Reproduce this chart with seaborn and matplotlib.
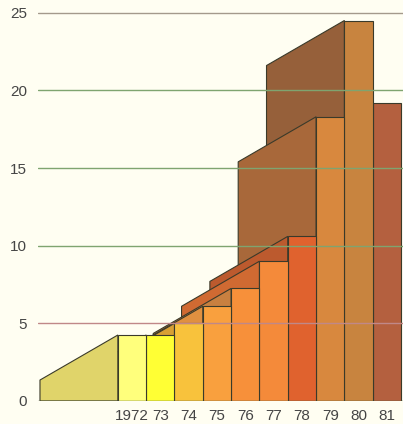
import numpy as np
import pandas as pd
import matplotlib
matplotlib.use('Agg')
import matplotlib.pyplot as plt
import seaborn as sns

sns.set_style('white')
plt.rcParams['font.family'] = ['Liberation Sans', 'DejaVu Sans']

# 데이터
years = ['1972', '73', '74', '75', '76', '77', '78', '79', '80', '81']
values = [4.25, 4.25, 5.0, 6.1, 7.25, 9.0, 10.6, 18.3, 24.5, 19.2]
y_ticks = [0, 5, 10, 15, 20, 25]

# 색상 (앞면 / 옆면)
front_colors = ['#FFFF7C', '#FFFF34', '#F8C23C', '#F9A03E', '#F7903A', '#F48A3A',
                '#E0622E', '#D8883E', '#C8843F', '#B4603F']
side_colors = ['#E0D46A', '#D8C040', '#D8A034', '#E09040', '#C88040', '#D06A32',
               '#BC5A2E', '#A8683A', '#96603A', '#904838']
grid_colors = ['#5C6A4C', '#C08888', '#7FA470', '#7FA470', '#7FA470', '#A49A8C']

df = pd.DataFrame({'year': years, 'value': values})

bg = '#FFFEF2'
fig = plt.figure(figsize=(4.03, 4.24), dpi=100, facecolor=bg)
ax = fig.add_axes([38 / 403, 23 / 424, 365 / 403, 401 / 424])
ax.set_facecolor(bg)

sns.barplot(data=df, x='year', y='value', hue='year', palette=front_colors,
            saturation=1, width=1.0, edgecolor='#3A3A2A', linewidth=0.8,
            legend=False, ax=ax)

# 입체 효과 (왼쪽 아래로 밀린 옆면)
dx, dy = -2.75, -2.9
n = len(years)
for i, bar in enumerate(ax.patches):
    bar.set_zorder(2 * (n - i) + 1)
    left = bar.get_x()
    top = bar.get_height()
    xs = [left, left + dx, left + dx, left]
    ys = [top, top + dy, 0, 0]
    ax.fill(xs, ys, facecolor=side_colors[i], edgecolor='#3A3A2A',
            linewidth=0.8, zorder=2 * (n - i))

# 가로 눈금선 (막대 위에 그림)
for t, c in zip(y_ticks, grid_colors):
    ax.axhline(t, color=c, linewidth=1.0, zorder=50)

ax.set_xlim(-3.32, 9.57)
ax.set_ylim(0, 25.82)
ax.set_yticks(y_ticks)
ax.set_xlabel('')
ax.set_ylabel('')
sns.despine(ax=ax, left=True, bottom=True)
ax.tick_params(axis='both', length=0, labelsize=11, labelcolor='#454545')
ax.tick_params(axis='y', pad=8)
ax.tick_params(axis='x', pad=6)

plt.savefig('out.png', dpi=100, facecolor=bg)
